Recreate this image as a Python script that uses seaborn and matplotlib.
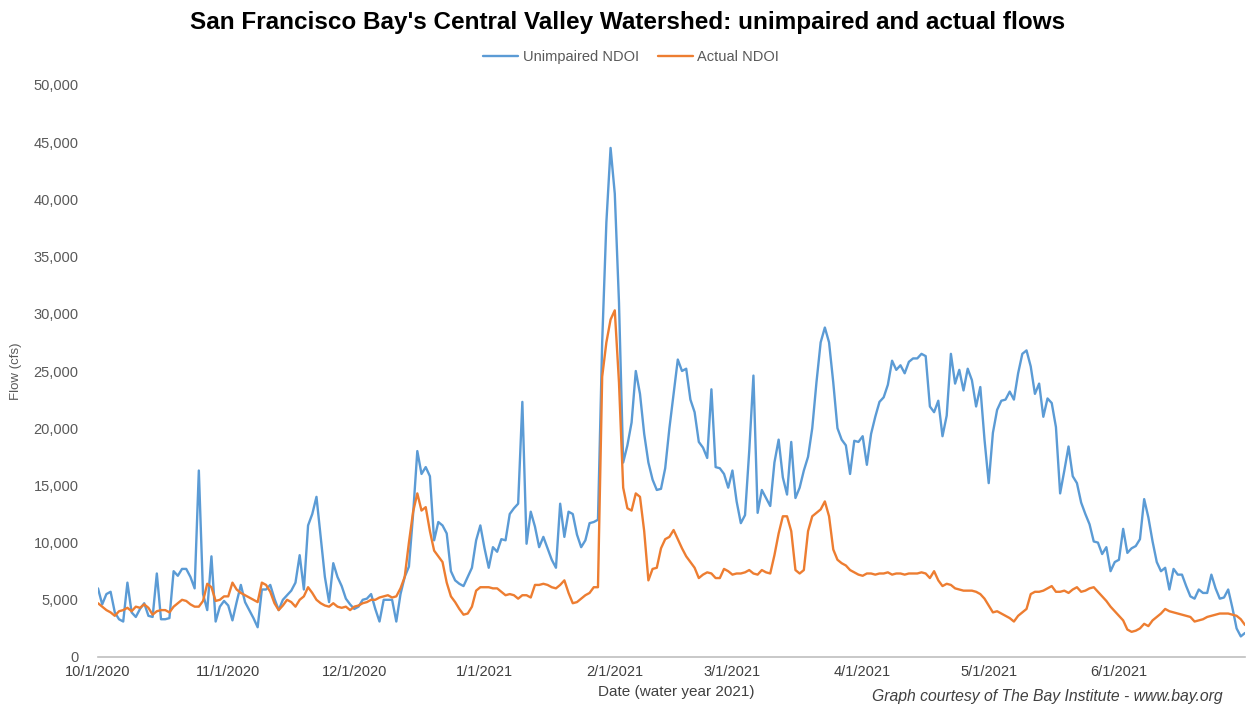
import pandas as pd
import matplotlib
matplotlib.use('Agg')
import matplotlib.pyplot as plt
from matplotlib.lines import Line2D
import seaborn as sns

# daily flows (cfs), 10/1/2020 .. 7/1/2021
start_date = '2020-10-01'

unimpaired = [
    6000, 4600, 5500, 5700, 3900, 3300, 3100, 6500, 3900, 3500,
    4200, 4700, 3600, 3500, 7300, 3300, 3300, 3400, 7500, 7100,
    7700, 7700, 7000, 6000, 16300, 5500, 4100, 8800, 3100, 4400,
    4900, 4500, 3200, 4800, 6300, 4800, 4100, 3400, 2600, 5900,
    5900, 6300, 5100, 4100, 5000, 5400, 5800, 6500, 8900, 5900,
    11500, 12500, 14000, 10500, 7000, 4800, 8200, 7000, 6200, 5100,
    4600, 4200, 4400, 5000, 5100, 5500, 4200, 3100, 5000, 5000,
    5000, 3100, 5500, 7000, 7900, 12500, 18000, 16000, 16600, 15800,
    10200, 11800, 11500, 10800, 7500, 6700, 6400, 6200, 7000, 7800,
    10200, 11500, 9500, 7800, 9600, 9200, 10300, 10200, 12500, 13000,
    13400, 22300, 9900, 12700, 11400, 9600, 10500, 9500, 8500, 7800,
    13400, 10500, 12700, 12500, 10700, 9600, 10200, 11700, 11800, 12000,
    27500, 38000, 44500, 40500, 31000, 17000, 18500, 20500, 25000, 23000,
    19500, 17000, 15500, 14600, 14700, 16500, 20000, 23000, 26000, 25000,
    25200, 22500, 21400, 18800, 18300, 17400, 23400, 16600, 16500, 16000,
    14800, 16300, 13600, 11700, 12400, 18000, 24600, 12600, 14600, 13900,
    13200, 17000, 19000, 15700, 14200, 18800, 13900, 14800, 16300, 17500,
    20000, 24000, 27500, 28800, 27500, 24000, 20000, 19000, 18500, 16000,
    18900, 18800, 19300, 16800, 19500, 21000, 22300, 22700, 23800, 25900,
    25100, 25500, 24800, 25800, 26100, 26100, 26500, 26300, 21900, 21400,
    22400, 19300, 21100, 26500, 23900, 25100, 23300, 25200, 24200, 21900,
    23600, 19000, 15200, 19600, 21600, 22400, 22500, 23200, 22500, 24800,
    26500, 26800, 25400, 23000, 23900, 21000, 22600, 22200, 20100, 14300,
    16300, 18400, 15800, 15200, 13500, 12500, 11600, 10100, 10000, 9000,
    9600, 7500, 8300, 8500, 11200, 9100, 9500, 9700, 10300, 13800,
    12200, 10100, 8300, 7500, 7800, 5900, 7700, 7200, 7200, 6200,
    5300, 5100, 5900, 5600, 5600, 7200, 6000, 5100, 5200, 5900,
    4300, 2500, 1800, 2100,
]

actual = [
    4700, 4400, 4100, 3900, 3600, 4000, 4100, 4300, 4000, 4400,
    4300, 4600, 4300, 3700, 4000, 4100, 4100, 3900, 4400, 4700,
    5000, 4900, 4600, 4400, 4400, 4900, 6400, 6100, 4900, 5000,
    5300, 5300, 6500, 5900, 5600, 5400, 5200, 5000, 4800, 6500,
    6300, 5700, 4700, 4100, 4500, 5000, 4800, 4400, 5000, 5300,
    6100, 5600, 5000, 4700, 4500, 4400, 4700, 4400, 4300, 4400,
    4100, 4400, 4500, 4700, 4800, 5000, 5000, 5200, 5300, 5400,
    5200, 5300, 6000, 7000, 10000, 12700, 14300, 12800, 13100, 11000,
    9300, 8800, 8300, 6500, 5300, 4800, 4200, 3700, 3800, 4400,
    5800, 6100, 6100, 6100, 6000, 6000, 5700, 5400, 5500, 5400,
    5100, 5400, 5400, 5200, 6300, 6300, 6400, 6300, 6100, 6000,
    6300, 6700, 5600, 4700, 4800, 5100, 5400, 5600, 6100, 6100,
    24500, 27500, 29500, 30300, 24000, 14800, 13000, 12800, 14300, 14000,
    11000, 6700, 7700, 7800, 9500, 10300, 10500, 11100, 10300, 9500,
    8800, 8300, 7800, 6900, 7200, 7400, 7300, 6900, 6900, 7700,
    7500, 7200, 7300, 7300, 7400, 7600, 7300, 7200, 7600, 7400,
    7300, 8900, 10800, 12300, 12300, 11000, 7600, 7300, 7600, 11000,
    12300, 12600, 12900, 13600, 12300, 9400, 8500, 8200, 8000, 7600,
    7400, 7200, 7100, 7300, 7300, 7200, 7300, 7300, 7400, 7200,
    7300, 7300, 7200, 7300, 7300, 7300, 7400, 7300, 6900, 7500,
    6700, 6200, 6400, 6300, 6000, 5900, 5800, 5800, 5800, 5700,
    5500, 5100, 4500, 3900, 4000, 3800, 3600, 3400, 3100, 3600,
    3900, 4200, 5500, 5700, 5700, 5800, 6000, 6200, 5700, 5700,
    5800, 5600, 5900, 6100, 5700, 5800, 6000, 6100, 5700, 5300,
    4900, 4400, 4000, 3600, 3200, 2400, 2200, 2300, 2500, 2900,
    2700, 3200, 3500, 3800, 4200, 4000, 3900, 3800, 3700, 3600,
    3500, 3100, 3200, 3300, 3500, 3600, 3700, 3800, 3800, 3800,
    3700, 3600, 3300, 2800,
]

series_names = ['Unimpaired NDOI', 'Actual NDOI']
colors = ['#5B9BD5', '#ED7D31']

dates = pd.date_range(start_date, periods=len(unimpaired), freq='D')
df = pd.DataFrame({'Date': dates, series_names[0]: unimpaired, series_names[1]: actual})
long_df = df.melt(id_vars='Date', var_name='Series', value_name='Flow')

sns.set_style('white')
plt.rcParams['font.family'] = ['Liberation Sans', 'DejaVu Sans']

fig = plt.figure(figsize=(12.47, 7.06), dpi=100)
ax = fig.add_axes([98 / 1247, 1 - 657 / 706, (1245 - 98) / 1247, (657 - 85) / 706])

sns.lineplot(data=long_df, x='Date', y='Flow', hue='Series', hue_order=series_names,
             palette=colors, linewidth=1.7, legend=False, ax=ax)

# axes
tick_dates = pd.date_range('2020-10-01', '2021-07-01', freq='MS')
tick_labels = [f'{d.month}/{d.day}/{d.year}' for d in tick_dates]
tick_labels[-1] = ''
ax.set_xlim(tick_dates[0], tick_dates[-1])
ax.set_xticks(tick_dates)
ax.set_xticklabels(tick_labels)
ax.set_ylim(0, 50000)
ax.set_yticks(range(0, 50001, 5000))
ax.set_yticklabels([f'{v:,}' for v in range(0, 50001, 5000)])

for side in ['left', 'top', 'right']:
    ax.spines[side].set_visible(False)
ax.spines['bottom'].set_color('#BFBFBF')
ax.spines['bottom'].set_linewidth(1.2)

ax.tick_params(axis='x', direction='inout', length=8, width=1.2, color='#BFBFBF',
               labelsize=10.5, labelcolor='#404040', pad=2)
ax.tick_params(axis='y', length=0, labelsize=10.5, labelcolor='#595959', pad=14)
ax.set_xlabel('')
ax.set_ylabel('Flow (cfs)', fontsize=9.5, color='#595959', labelpad=8)

# titles and notes
fig.text(0.503, 0.968, "San Francisco Bay's Central Valley Watershed: unimpaired and actual flows",
         ha='center', va='center', fontsize=17.5, fontweight='bold', color='#000000')
fig.text(676 / 1247, 1 - 692 / 706, 'Date (water year 2021)', ha='center', va='center',
         fontsize=11, color='#404040')
fig.text(1223 / 1247, 1 - 697 / 706, 'Graph courtesy of The Bay Institute - www.bay.org',
         ha='right', va='center', fontsize=11.3, style='italic', color='#404040')

handles = [Line2D([0], [0], color=c, lw=1.7) for c in colors]
fig.legend(handles, series_names, loc='center', bbox_to_anchor=(631 / 1247, 1 - 57 / 706),
           ncol=2, frameon=False, fontsize=10.5, labelcolor='#595959',
           handlelength=2.4, handletextpad=0.3, columnspacing=1.3)

plt.savefig('out.png', dpi=100)
